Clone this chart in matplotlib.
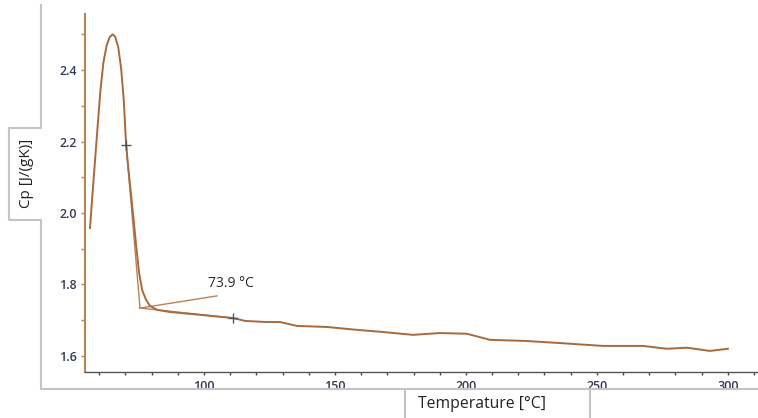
import matplotlib
matplotlib.use("Agg")
import matplotlib.pyplot as plt
from matplotlib.lines import Line2D
from matplotlib.ticker import MultipleLocator

# Cp curve read from the DSC measurement
temp = [56.5, 58.0, 59.6, 60.5, 61.6, 62.9, 64.0, 65.1, 66.1, 67.3, 68.4, 69.4,
        70.3, 71.4, 72.9, 74.1, 75.2, 76.4, 77.9, 79.4, 82.1, 87.0, 98.5, 111.1,
        115.7, 123.3, 129.0, 135.5, 147.0, 158.4, 168.3, 179.8, 190.1, 200.4,
        209.2, 222.5, 235.9, 252.3, 267.6, 276.7, 284.4, 293.1, 300.0]
cp = [1.958, 2.106, 2.260, 2.344, 2.420, 2.470, 2.492, 2.500, 2.494, 2.464, 2.404, 2.316,
      2.190, 2.106, 2.000, 1.910, 1.835, 1.785, 1.757, 1.740, 1.729, 1.723, 1.715, 1.706,
      1.698, 1.695, 1.695, 1.684, 1.681, 1.673, 1.667, 1.659, 1.664, 1.662,
      1.645, 1.642, 1.636, 1.628, 1.628, 1.620, 1.623, 1.614, 1.620]

# glass transition evaluation: tangents meeting at the onset corner
steep_t = [70.3, 75.6]
steep_cp = [2.190, 1.734]
upper_t = [75.6, 105.0]
upper_cp = [1.734, 1.768]
base_t = [75.6, 111.1]
base_cp = [1.734, 1.706]
marks_t = [70.3, 111.1]
marks_cp = [2.190, 1.706]
tg_label = "73.9 °C"

W, H = 758, 418
fig = plt.figure(figsize=(W / 100, H / 100), dpi=100)
fig.patch.set_facecolor("white")
ax = fig.add_axes([85 / W, 1 - 372 / H, (W - 85) / W, (372 - 14) / H])

curve_col = "#a86a3c"
ax.plot(temp, cp, color=curve_col, lw=1.4, zorder=3, solid_joinstyle="round")
for tx, cy in [(steep_t, steep_cp), (upper_t, upper_cp), (base_t, base_cp)]:
    ax.plot(tx, cy, color="#b5835c", lw=1.0, zorder=2)
ax.plot(marks_t, marks_cp, ls="none", marker="+", ms=7, mew=1.0, color="#555555", zorder=4)
ax.text(101.5, 1.804, tg_label, fontsize=10, family="Open Sans", color="#2a2a2a",
        va="center", ha="left")

ax.set_xlim(54.6, 311.5)
ax.set_ylim(1.555, 2.557)
ax.xaxis.set_major_locator(MultipleLocator(50))
ax.xaxis.set_minor_locator(MultipleLocator(10))
ax.yaxis.set_major_locator(MultipleLocator(0.2))
ax.yaxis.set_minor_locator(MultipleLocator(0.1))
ax.set_xticks([100, 150, 200, 250, 300])
ax.set_yticks([1.6, 1.8, 2.0, 2.2, 2.4])
ax.yaxis.set_major_formatter(plt.FormatStrFormatter("%.1f"))

for s in ["top", "right"]:
    ax.spines[s].set_visible(False)
ax.spines["left"].set_color("#b8844f")
ax.spines["left"].set_linewidth(1.5)
ax.spines["bottom"].set_color("#555555")
ax.spines["bottom"].set_linewidth(1.0)

ax.tick_params(axis="x", which="both", direction="out", length=2.5, width=1,
               color="#444444", labelsize=9, labelcolor="#353a55", pad=3)
ax.tick_params(axis="y", which="both", direction="out", length=3, width=1,
               color="#b8844f", labelsize=9, labelcolor="#353a55", pad=3)
for lab in ax.get_xticklabels() + ax.get_yticklabels():
    lab.set_family("Open Sans")
    lab.set_fontweight("semibold")

# outer frame with the tabs holding the axis titles
def px(x, y):
    return x / W, 1 - y / H

frame_col = "#c4c4c4"
outline = [(41, 5), (41, 128), (9, 128), (9, 220), (41, 220), (41, 389), (758, 389)]
fig.add_artist(Line2D([px(*p)[0] for p in outline], [px(*p)[1] for p in outline],
                      color=frame_col, lw=1.5, transform=fig.transFigure))
for xs in [405, 590]:
    fig.add_artist(Line2D([xs / W, xs / W], [px(0, 389)[1], 0], color=frame_col, lw=1.5,
                          transform=fig.transFigure))

fig.text(*px(26, 173), "Cp [J/(gK)]", rotation=90, ha="center", va="center",
         fontsize=11, family="Open Sans", color="#222222")
fig.text(*px(482, 404), "Temperature [°C]", ha="center", va="center",
         fontsize=11.3, family="Open Sans", color="#222222")

fig.savefig("out.png", dpi=100, facecolor="white")
